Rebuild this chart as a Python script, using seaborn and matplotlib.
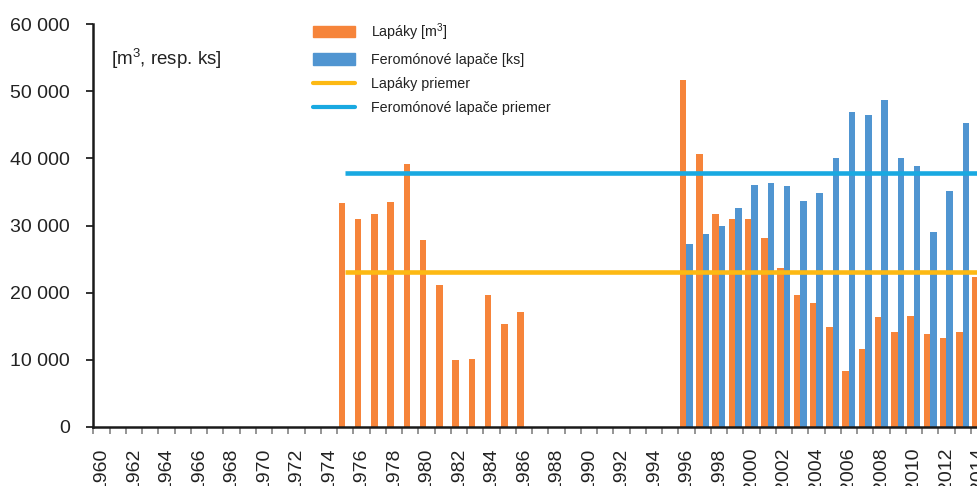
"""
plot.py
Lapáky a feromónové lapače 1960-2014, stĺpcový graf s priemermi.
"""

import matplotlib
matplotlib.use("Agg")
import matplotlib.pyplot as plt
from matplotlib.lines import Line2D
from matplotlib.patches import Patch
from matplotlib.ticker import FuncFormatter
import numpy as np
import pandas as pd
import seaborn as sns

# ── data ──────────────────────────────────────────────────────────────────────

YEARS = list(range(1960, 2015))

LAPAKY_YEARS = list(range(1975, 1987)) + list(range(1996, 2015))
LAPAKY_VALS = [33300, 30900, 31700, 33500, 39100, 27800, 21100, 10000, 10100,
               19600, 15300, 17100,
               51600, 40600, 31700, 30900, 31000, 28200, 23700, 19600, 18400,
               14900, 8300, 11600, 16400, 14100, 16600, 13900, 13300, 14100,
               22400]

PASCE_YEARS = list(range(1996, 2015))
PASCE_VALS = [27200, 28700, 29900, 32600, 36100, 36300, 35900, 33700, 34900,
              40000, 46900, 46500, 48700, 40100, 38800, 29100, 35200, 45300,
              51000]

LAPAKY_AVG = 23050
PASCE_AVG = 37750

SERIES = ["Lapáky [m$^3$]", "Feromónové lapače [ks]"]
AVG_LABELS = ["Lapáky priemer", "Feromónové lapače priemer"]
UNIT_LABEL = "[m$^3$, resp. ks]"

ORANGE = "#F6843A"
BLUE = "#5095D1"
YELLOW = "#FDB913"
CYAN = "#19A9E1"
TEXT = "#222222"


def build_frame() -> pd.DataFrame:
    a = pd.DataFrame({"rok": LAPAKY_YEARS, "hodnota": LAPAKY_VALS, "serie": SERIES[0]})
    b = pd.DataFrame({"rok": PASCE_YEARS, "hodnota": PASCE_VALS, "serie": SERIES[1]})
    return pd.concat([a, b], ignore_index=True)


def main() -> None:
    sns.set_style("white")
    plt.rcParams["font.family"] = ["Liberation Sans", "DejaVu Sans"]
    plt.rcParams["mathtext.default"] = "regular"

    df = build_frame()

    fig = plt.figure(figsize=(9.77, 4.86), dpi=100)
    ax = fig.add_axes([0.0955, 0.1214, 0.9148, 0.8292])

    sns.barplot(
        data=df, x="rok", y="hodnota", hue="serie",
        order=YEARS, hue_order=SERIES,
        palette={SERIES[0]: ORANGE, SERIES[1]: BLUE},
        saturation=1, errorbar=None, width=0.8, linewidth=0,
        legend=False, ax=ax,
    )

    # averages over the whole observed period
    x0 = YEARS.index(min(LAPAKY_YEARS))
    x1 = YEARS.index(max(LAPAKY_YEARS))
    ax.hlines(LAPAKY_AVG, x0, x1, color=YELLOW, lw=3.3, zorder=5)
    ax.hlines(PASCE_AVG, x0, x1, color=CYAN, lw=3.3, zorder=5)

    ax.set_xlim(-0.5, len(YEARS) - 0.5)
    ax.set_ylim(0, 60000)
    ax.set_xlabel("")
    ax.set_ylabel("")

    # x axis: labels every 2nd year at centres, ticks on category boundaries
    major = list(range(0, len(YEARS), 2))
    ax.set_xticks(major)
    ax.set_xticklabels([str(YEARS[i]) for i in major], rotation=90)
    ax.set_xticks(np.arange(-0.5, len(YEARS)), minor=True)
    ax.tick_params(axis="x", which="major", length=0, pad=15,
                   labelsize=14, labelcolor=TEXT)
    ax.tick_params(axis="x", which="minor", length=5, width=1.3,
                   color="#8c8c8c", bottom=True)

    ax.set_yticks(range(0, 60001, 10000))
    ax.yaxis.set_major_formatter(
        FuncFormatter(lambda v, p: f"{int(v):,}".replace(",", " ")))
    ax.tick_params(axis="y", length=5, width=1.3, color="#222222",
                   pad=12, labelsize=14, labelcolor=TEXT, left=True)

    sns.despine(ax=ax)
    for side in ("left", "bottom"):
        ax.spines[side].set_color("#1a1a1a")
        ax.spines[side].set_linewidth(1.8)

    fig.text(111 / 977, 1 - 58.7 / 486, UNIT_LABEL, fontsize=13.5,
             color=TEXT, va="center", ha="left")

    handles = [
        Patch(color=ORANGE),
        Patch(color=BLUE),
        Line2D([], [], color=YELLOW, lw=3),
        Line2D([], [], color=CYAN, lw=3),
    ]
    fig.legend(
        handles, SERIES + AVG_LABELS,
        loc="upper left", bbox_to_anchor=(313 / 977, 1 - 21 / 486),
        frameon=False, labelcolor=TEXT,
        prop={"size": 10.3},
        handlelength=2.95, handleheight=0.85, handletextpad=1.1,
        labelspacing=0.72, borderpad=0, borderaxespad=0,
    )

    fig.savefig("out.png", dpi=100)
    plt.close(fig)


if __name__ == "__main__":
    main()
